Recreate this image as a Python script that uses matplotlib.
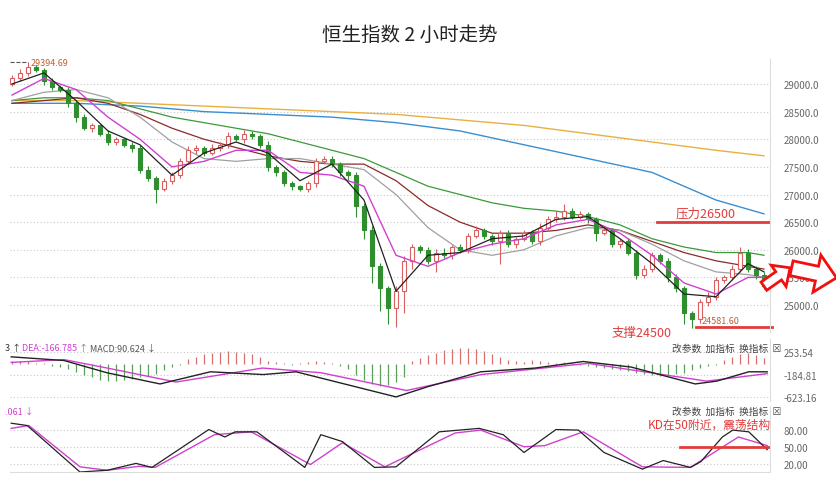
import numpy as np
import matplotlib
matplotlib.use("Agg")
import matplotlib.pyplot as plt
from matplotlib.patches import Polygon, Rectangle

plt.rcParams['font.family'] = ['Noto Sans CJK SC', 'DejaVu Sans']

# candle closes, one per 2h bar
closes = [29100, 29200, 29300, 29250, 29050, 28950, 28900, 28650, 28400, 28200,
          28250, 28100, 27950, 28000, 27900, 27850, 27450, 27300, 27100, 27250,
          27350, 27600, 27800, 27850, 27750, 27850, 27900, 28050, 28000, 28100,
          28050, 27900, 27500, 27400, 27200, 27150, 27100, 27200, 27600, 27650,
          27550, 27400, 27350, 26800, 26350, 25700, 25300, 24950, 25250, 25800,
          26050, 26000, 25800, 25950, 25900, 26050, 26000, 26250, 26350, 26250,
          26150, 26300, 26100, 26200, 26300, 26150, 26400, 26550, 26600, 26700,
          26600, 26650, 26550, 26300, 26350, 26100, 26150, 25950, 25550, 25650,
          25900, 25800, 25500, 25300, 24850, 24750, 25050, 25150, 25450, 25500,
          25650, 25950, 25650, 25550, 25350]
first_open = 29000
hi_wick = [60, 80, 94, 50, 40, 60, 30, 50, 40, 60, 40, 30, 60, 40, 30, 50, 40, 60, 30, 40,
           50, 60, 80, 40, 30, 60, 50, 80, 40, 60, 50, 40, 60, 30, 40, 50, 30, 40, 60, 50,
           40, 30, 50, 60, 40, 80, 60, 50, 100, 80, 60, 40, 50, 60, 80, 40, 50, 60, 80, 50,
           40, 60, 50, 40, 60, 50, 80, 60, 100, 120, 50, 60, 40, 50, 60, 40, 50, 60, 40, 80,
           60, 40, 50, 60, 40, 50, 60, 80, 60, 40, 80, 100, 60, 50, 40]
lo_wick = [40, 50, 60, 40, 60, 50, 40, 60, 80, 40, 60, 40, 50, 60, 40, 80, 60, 50, 250, 40,
           60, 50, 40, 60, 50, 40, 60, 50, 40, 60, 50, 60, 80, 60, 50, 60, 40, 50, 60, 40,
           50, 60, 80, 200, 150, 300, 400, 300, 350, 400, 150, 60, 50, 200, 40, 60, 50, 60, 40, 50,
           60, 400, 50, 60, 40, 50, 60, 40, 50, 60, 40, 50, 60, 150, 40, 50, 60, 40, 80, 60,
           50, 60, 80, 60, 200, 160, 80, 60, 50, 60, 40, 50, 60, 80, 60]

# moving averages, read every few bars
ma_idx = [0, 4, 8, 12, 16, 20, 24, 28, 32, 36, 40, 44, 48, 52, 56, 60, 64, 68, 72, 76, 80, 84, 88, 92, 94]
ma5 = [29000, 29200, 28700, 28150, 27900, 27350, 27750, 27950, 27750, 27250, 27550, 26900, 25250,
       25900, 25950, 26200, 26250, 26550, 26600, 26200, 25750, 25200, 25150, 25750, 25600]
ma10 = [28800, 29100, 28900, 28400, 28000, 27500, 27600, 27800, 27800, 27400, 27350, 27150, 25900,
        25700, 25950, 26100, 26200, 26450, 26550, 26300, 25900, 25400, 25200, 25500, 25500]
ma20 = [28700, 28850, 28900, 28750, 28400, 27950, 27650, 27600, 27650, 27650, 27550, 27450, 27000,
        26400, 26000, 25900, 26000, 26250, 26400, 26350, 26100, 25800, 25600, 25550, 25500]
ma30 = [28650, 28700, 28750, 28650, 28450, 28200, 28000, 27850, 27700, 27600, 27550, 27550, 27250,
        26800, 26500, 26300, 26300, 26350, 26450, 26350, 26150, 25950, 25800, 25700, 25650]
ma60 = [28700, 28750, 28750, 28700, 28550, 28400, 28300, 28200, 28100, 27950, 27800, 27650, 27400,
        27150, 27000, 26850, 26750, 26700, 26600, 26450, 26200, 26050, 25950, 25950, 25900]
long_idx = [0, 8, 16, 24, 32, 40, 48, 56, 64, 72, 80, 88, 94]
ma120 = [28650, 28650, 28600, 28500, 28450, 28400, 28300, 28150, 27900, 27650, 27400, 26900, 26650]
ma250 = [28700, 28700, 28650, 28600, 28550, 28500, 28450, 28350, 28250, 28100, 27950, 27800, 27700]

# MACD panel (x in bar units)
dif_x = [-0.1, 6.5, 11.9, 18.5, 24.8, 31.4, 35.5, 48, 52, 58.6, 65.4, 71.4, 77.4, 85.4, 88.1, 92.1, 94.4]
dif = [162, 90, -150, -367, -130, -184, -130, -620, -420, -130, -57, 71, -38, -367, -312, -130, -130]
dea_x = [-0.1, 6.5, 11.9, 20.5, 31.3, 38.6, 49.3, 58.6, 72, 86.8, 94.4]
dea = [53, 108, -57, -330, -57, -148, -495, -185, 35, -312, -166]
hist = [60, 60, 60, 20, 20, -30, -60, -100, -150, -200, -250, -300, -330, -330, -300, -280, -250,
        -220, -180, -120, -60, -20, 100, 150, 200, 230, 250, 260, 250, 230, 200, 150, 60, 40, 20,
        -20, 20, 40, 60, 40, 20, -30, -100, -200, -300, -380, -420, -400, -350, -250, 60, 120, 180,
        230, 270, 300, 320, 320, 300, 260, 200, 140, 80, 60, 50, 80, 60, 40, 20, 40, 20, -20, -40,
        -60, -80, -100, -120, -140, -160, -180, -200, -220, -200, -180, -160, -120, -80, -40, -20,
        80, 150, 200, 220, 180, 120]
hist_zero = 16

# KD panel
k_x = [-0.1, 1.9, 8.5, 11.9, 15.5, 17.5, 24.6, 26.6, 27.9, 30.6, 36.6, 38.6, 41.3, 45.3, 48, 53.4,
       58.4, 61.4, 64, 68, 70.8, 74, 78.8, 81.4, 84.8, 86.1, 88.8, 90.1, 92.1, 94.4]
k_val = [91, 87, 6, 9, 21, 14, 80, 67, 76, 76, 14, 71, 59, 14, 15, 76, 82, 71, 40, 80, 79, 40, 11,
         26, 14, 24, 67, 79, 76, 45]
d_x = [-0.1, 2.1, 8.5, 11.9, 15.9, 17.9, 25.3, 29.9, 37.3, 41.3, 46.6, 55.4, 58.6, 64, 66.6,
       71.4, 78.8, 84.8, 90.8, 94.4]
d_val = [82, 87, 15, 9, 16, 14, 71, 76, 19, 57, 15, 74, 79, 50, 52, 76, 15, 14, 67, 52]

RED = "#e03c3c"
GREEN = "#2f8f2f"
GRID = dict(color="#c8c8c8", ls=(0, (1, 2)), lw=0.8)
XL = (-0.25, 94.75)
W, H = 837, 485

fig = plt.figure(figsize=(8.37, 4.85), dpi=100)
fig.text(0.49, 0.915, "恒生指数 2 小时走势", ha="center", fontsize=14, color="#222222")

ax = fig.add_axes([10 / 837, 1 - 333 / 485, 760 / 837, 273 / 485])
ax.set_xlim(*XL)
ax.set_ylim(24512, 29452)
for y in range(25000, 29001, 500):
    ax.axhline(y, **GRID, zorder=0)
opens = [first_open] + closes[:-1]
for i, (o, c) in enumerate(zip(opens, closes)):
    up = c >= o
    col = "#d96060" if up else GREEN
    lo, hi = min(o, c), max(o, c)
    ax.vlines(i, lo - lo_wick[i], hi + hi_wick[i], color=col, lw=0.8, zorder=3)
    ax.add_patch(Rectangle((i - 0.28, lo), 0.56, max(hi - lo, 15),
                           facecolor="white" if up else col, edgecolor=col, lw=0.8, zorder=4))
ax.plot(long_idx, ma250, color="#e8b040", lw=1, zorder=2)
ax.plot(long_idx, ma120, color="#3a8fd0", lw=1, zorder=2)
ax.plot(ma_idx, ma60, color="#3a9a3a", lw=0.9, zorder=2)
ax.plot(ma_idx, ma30, color="#8b2a2a", lw=0.9, zorder=2)
ax.plot(ma_idx, ma20, color="#a0a0a0", lw=0.9, zorder=2)
ax.plot(ma_idx, ma10, color="#d040d0", lw=1, zorder=5)
ax.plot(ma_idx, ma5, color="#222222", lw=0.9, zorder=5)
ax.yaxis.tick_right()
ax.set_yticks(range(25000, 29001, 500))
ax.set_yticklabels([f"{v}.0" for v in range(25000, 29001, 500)], fontsize=7, color="#666666")
ax.tick_params(length=0, pad=10)
ax.set_xticks([])
for s in ["top", "left", "bottom"]:
    ax.spines[s].set_visible(False)
ax.spines["right"].set_color("#dddddd")

ax.plot([-0.25, 2], [29394, 29394], color="#555555", ls="--", lw=0.8)
ax.text(2.3, 29394, "29394.69", fontsize=6.5, color="#c06030", va="center")
ax.text(86.2, 24640, "24581.60", fontsize=6.5, color="#c06030", va="bottom", zorder=8)
ax.plot([80.6, 94.6], [26500, 26500], color=RED, lw=2)
ax.text(83, 26600, "压力26500", fontsize=9, color=RED)
ax.plot([85.5, 95], [24600, 24600], color=RED, lw=2, clip_on=False)
fig.text(612 / W, 1 - 333 / H, "支撑24500", fontsize=9, color=RED, va="center", zorder=20)


def arrow(cx, cy, shaft_len, shaft_w, head_len, head_w, angle):
    # hollow block arrow centred on (cx, cy) in figure pixels, angle in degrees (ccw)
    L = shaft_len + head_len
    pts = np.array([(-L / 2, -shaft_w / 2), (-L / 2 + shaft_len, -shaft_w / 2),
                    (-L / 2 + shaft_len, -head_w / 2), (L / 2, 0),
                    (-L / 2 + shaft_len, head_w / 2), (-L / 2 + shaft_len, shaft_w / 2),
                    (-L / 2, shaft_w / 2)])
    a = np.radians(angle)
    rot = np.array([[np.cos(a), -np.sin(a)], [np.sin(a), np.cos(a)]])
    pts = pts @ rot.T
    xy = [((cx + px) / W, 1 - (cy - py) / H) for px, py in pts]
    fig.patches.append(Polygon(xy, closed=True, facecolor="white", edgecolor="#f01010",
                               lw=2, transform=fig.transFigure, zorder=10))


arrow(777, 278, 18, 10, 14, 26, 35)
arrow(814, 274, 26, 15, 20, 38, -12)

# MACD panel
am = fig.add_axes([10 / 837, 1 - 402 / 485, 760 / 837, 62 / 485])
am.set_xlim(*XL)
am.set_ylim(-700, 510)
for y in [253.54, -184.81, -623.16]:
    am.axhline(y, **GRID, zorder=0)
for i, h in enumerate(hist):
    am.vlines(i, hist_zero, hist_zero + h, color="#d87070" if h > 0 else "#5aa05a", lw=0.9)
am.plot(dea_x, dea, color="#d040d0", lw=1)
am.plot(dif_x, dif, color="#222222", lw=1)
am.yaxis.tick_right()
am.set_yticks([253.54, -184.81, -623.16])
am.set_yticklabels(["253.54", "-184.81", "-623.16"], fontsize=7, color="#666666")
am.tick_params(length=0, pad=10)
am.set_xticks([])
for s in ["top", "left", "bottom"]:
    am.spines[s].set_visible(False)
am.spines["right"].set_color("#dddddd")
fig.text(5 / W, 1 - 349 / H, "3 ↑", fontsize=6.5, color="#333333", va="center")
fig.text(22 / W, 1 - 349 / H, "DEA:-166.785 ↑", fontsize=6.5, color="#d040d0", va="center")
fig.text(90 / W, 1 - 349 / H, "MACD:90.624 ↓", fontsize=6.5, color="#555555", va="center")
fig.text(672 / W, 1 - 349 / H, "改参数  加指标  换指标  ☒", fontsize=7, color="#444444", va="center")

# KD panel
ak = fig.add_axes([10 / 837, 1 - 473 / 485, 760 / 837, 66 / 485])
ak.set_xlim(*XL)
ak.set_ylim(6, 121)
for y in [20, 50, 80]:
    ak.axhline(y, **GRID, zorder=0)
ak.plot(d_x, d_val, color="#d040d0", lw=1)
ak.plot(k_x, k_val, color="#222222", lw=0.9)
ak.plot([83.5, 94.6], [50, 50], color=RED, lw=2)
ak.text(79.5, 84, "KD在50附近，震荡结构", fontsize=8.5, color=RED)
ak.yaxis.tick_right()
ak.set_yticks([80, 50, 20])
ak.set_yticklabels(["80.00", "50.00", "20.00"], fontsize=7, color="#666666")
ak.tick_params(length=0, pad=10)
ak.set_xticks([])
for s in ["top", "left"]:
    ak.spines[s].set_visible(False)
ak.spines["bottom"].set_color("#dddddd")
ak.spines["right"].set_color("#dddddd")
fig.text(5 / W, 1 - 412 / H, ".061 ↓", fontsize=6.5, color="#d040d0", va="center")
fig.text(672 / W, 1 - 412 / H, "改参数  加指标  换指标  ☒", fontsize=7, color="#444444", va="center")

fig.savefig("out.png", dpi=100, facecolor="white")
